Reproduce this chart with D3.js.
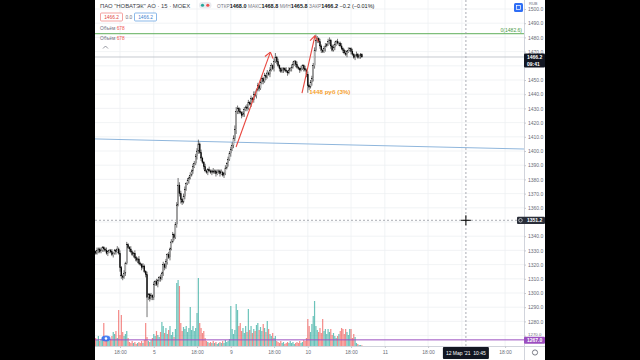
<!DOCTYPE html>
<html>
<head>
<meta charset="utf-8">
<script src="https://cdn.jsdelivr.net/npm/d3@7"></script>
<style>
  body { margin: 0; background: #000; }
  svg { display: block; font-family: "Liberation Sans", Arial, sans-serif; }
</style>
</head>
<body>
<svg id="chart" width="640" height="360"></svg>
<script>
// 15 min candles, PAO NOVATEK, 4 Mar 13:30 .. 10 Mar 20:00 (bar index = position)
const closes = [
  1328, 1330, 1331, 1329, 1330, 1332, 1331, 1330, 1328, 1329,
  1330, 1329, 1327, 1328, 1330, 1329, 1331, 1328, 1318, 1312,
  1311, 1314, 1321, 1334, 1332, 1331, 1329, 1327, 1328, 1325,
  1323, 1324, 1321, 1320, 1318, 1319, 1315, 1313, 1297, 1299,
  1296, 1298, 1297, 1306, 1308, 1306, 1309, 1311, 1310, 1314,
  1320, 1318, 1322, 1327, 1325, 1331, 1336, 1341, 1339, 1348,
  1362, 1376, 1370, 1366, 1364, 1368, 1373, 1377, 1379, 1381,
  1383, 1386, 1389, 1391, 1396, 1400, 1405, 1399, 1395, 1392,
  1389, 1386, 1385, 1387, 1386, 1385, 1386, 1385, 1386, 1384,
  1385, 1386, 1384, 1385, 1383, 1384, 1388, 1391, 1394, 1398,
  1401, 1404, 1409, 1415, 1428, 1430, 1428, 1427, 1425, 1426,
  1429, 1431, 1430, 1434, 1433, 1437, 1436, 1440, 1439, 1443,
  1446, 1444, 1448, 1451, 1449, 1453, 1452, 1455, 1454, 1457,
  1460, 1458, 1463, 1466, 1463, 1460, 1458, 1456, 1457, 1458,
  1457, 1456, 1455, 1457, 1458, 1459, 1461, 1463, 1461, 1459,
  1458, 1457, 1458, 1460, 1458, 1457, 1454, 1446, 1445, 1448,
  1451, 1460, 1471, 1478, 1479, 1477, 1474, 1471, 1470, 1472,
  1474, 1475, 1477, 1478, 1474, 1471, 1473, 1475, 1477, 1476,
  1476, 1474, 1472, 1471, 1469, 1468, 1470, 1471, 1472, 1470,
  1468, 1466, 1467, 1468, 1466, 1467, 1468, 1466.2
];
const firstOpen = 1329;

// wick length above / below the body, rub
const wickUp = [
  1,2,1,1,2,1,1,1,2,1, 1,1,2,1,1,1,2,1,2,1,
  1,2,1,2,1,1,2,1,1,2, 1,1,2,1,1,2,1,1,2,1,
  1,2,1,2,1,2,1,1,2,1, 2,1,2,1,2,1,2,2,1,2,
  2,5,2,2,1,2,2,1,2,1, 2,1,2,2,2,2,3,1,2,1,
  1,2,1,1,2,1,1,2,1,1, 2,1,1,2,1,1,2,1,2,2,
  2,2,2,3,3,2,1,2,1,2, 2,1,2,2,1,2,1,2,2,1,
  2,1,2,2,1,2,1,2,1,2, 2,1,2,3,1,2,1,1,2,1,
  1,2,1,2,1,2,2,1,1,2, 1,1,2,1,1,2,1,2,1,2,
  2,2,2,4,2,1,2,1,1,2, 2,1,2,2,1,1,2,2,1,2,
  1,1,2,1,1,2,1,2,1,1, 2,1,1,2,1,1,1,0.8
];
const wickDown = [
  1,1,2,1,1,1,2,1,1,2, 1,1,1,2,1,2,1,1,3,2,
  2,1,2,1,1,2,1,1,2,1, 1,2,1,1,2,1,1,2,14,2,
  2,1,2,2,1,1,2,1,2,1, 2,2,1,2,1,2,1,1,2,1,
  2,1,2,3,2,1,2,1,1,2, 1,1,2,1,1,2,2,1,2,1,
  2,1,1,2,1,1,2,1,1,2, 1,1,2,1,1,2,1,1,2,1,
  2,1,2,2,3,2,2,1,2,1, 2,1,2,1,1,2,1,2,1,2,
  1,2,1,1,2,1,2,1,1,2, 1,1,2,1,2,1,2,1,1,2,
  1,1,2,1,1,2,1,1,2,1, 1,2,1,1,2,1,2,5,2,1,
  2,2,2,1,2,1,2,2,1,1, 2,1,1,2,2,1,1,2,1,1,
  2,1,1,2,1,1,2,1,1,2, 1,1,2,1,1,1,2,0.4
];

// volume, thousand shares
const volumes = [
  8, 6, 10, 5, 7, 9, 23, 8, 6, 9,
  5, 7, 10, 14, 12, 15, 8, 36, 11, 31,
  14, 10, 12, 15, 8, 4, 3, 5, 3, 4,
  2, 3, 4, 3, 5, 3, 6, 23, 9, 5,
  4, 6, 8, 12, 10, 15, 11, 9, 14, 24,
  20, 13, 18, 12, 16, 20, 11, 14, 9, 17,
  63, 66, 60, 23, 15, 19, 17, 20, 14, 18,
  39, 16, 20, 15, 18, 33, 68, 23, 18, 13,
  15, 8, 5, 4, 3, 4, 3, 5, 3, 4,
  2, 3, 4, 3, 5, 3, 6, 4, 5, 7,
  40, 17, 12, 16, 42, 36, 20, 23, 15, 18,
  13, 20, 14, 37, 16, 20, 13, 17, 15, 21,
  23, 16, 19, 15, 22, 18, 14, 25, 17, 12,
  10, 13, 8, 10, 5, 4, 3, 5, 3, 4,
  2, 3, 4, 3, 5, 3, 4, 2, 3, 4,
  3, 5, 3, 4, 6, 5, 8, 27, 20, 14,
  22, 30, 45, 20, 16, 14, 18, 13, 27, 15,
  17, 12, 17, 14, 17, 11, 13, 10, 8, 10,
  12, 15, 18, 17, 12, 17, 14, 11, 17, 17,
  8, 12, 9, 3, 2, 1, 1, 0.678
];

const priceTicks = [1270, 1280, 1290, 1300, 1310, 1320, 1330, 1340, 1350, 1360, 1370, 1380,
  1390, 1400, 1410, 1420, 1430, 1440, 1450, 1460, 1470, 1480, 1490, 1500];
const timeTickIdx = [18, 43, 75, 100, 132, 157, 189, 214, 246, 271, 303];
const timeTickLabels = ['18:00', '5', '18:00', '9', '18:00', '10', '18:00', '11', '18:00', '12', '18:00'];

// drawings on the chart (bar index, price)
const levelGreen = 1482.6;
const levelPurple = 1267.0;
const blueLine = [[-0.5, 1408.5], [317, 1401.4]];
const arrows = [[[103.9, 1402.8], [129.3, 1469.6]], [[152.7, 1440.8], [162.3, 1481.2]]];
const note = {i: 158, price: 1441.5, text: '1448 руб (3%)'};
const cross = {i: 274, price: 1351.2, label: "12 Мар '21  10:45"};
const lastPrice = 1466.2;

const paneLeft = 95, paneRight = 524, axisRight = 545, paneBottom = 346;

const svg = d3.select('#chart');
svg.append('rect').attr('x', paneLeft).attr('width', axisRight - paneLeft).attr('height', 360).attr('fill', '#fff');

const x = d3.scaleLinear().domain([-0.5, 317]).range([paneLeft, paneRight]);
const y = d3.scaleLinear().domain([1300, 1500]).range([293, 9]);
const yVol = d3.scaleLinear().domain([0, 66]).range([paneBottom, 280]);

// grid
svg.append('g').selectAll('line').data(priceTicks).join('line')
  .attr('x1', paneLeft).attr('x2', paneRight)
  .attr('y1', d => y(d)).attr('y2', d => y(d))
  .attr('stroke', '#eef0f3').attr('stroke-width', 0.8);
svg.append('g').selectAll('line').data(timeTickIdx).join('line')
  .attr('x1', d => x(d)).attr('x2', d => x(d))
  .attr('y1', 0).attr('y2', paneBottom)
  .attr('stroke', '#eef0f3').attr('stroke-width', 0.8);

const bars = closes.map((c, i) => {
  const o = i === 0 ? firstOpen : closes[i - 1];
  return {i, o, c, h: Math.max(o, c) + wickUp[i], l: Math.min(o, c) - wickDown[i], v: volumes[i]};
});

// volume
svg.append('g').selectAll('rect').data(bars).join('rect')
  .attr('x', d => x(d.i) - 0.6)
  .attr('width', 1.2)
  .attr('y', d => yVol(d.v))
  .attr('height', d => paneBottom - yVol(d.v))
  .attr('fill', d => d.c >= d.o ? '#26a69a' : '#ef5350')
  .attr('opacity', 0.68);

// purple level
svg.append('line')
  .attr('x1', paneLeft).attr('x2', paneRight)
  .attr('y1', y(levelPurple)).attr('y2', y(levelPurple))
  .attr('stroke', '#9c4fc0').attr('stroke-width', 1);

// blue trend line
svg.append('line')
  .attr('x1', x(blueLine[0][0])).attr('y1', y(blueLine[0][1]))
  .attr('x2', x(blueLine[1][0])).attr('y2', y(blueLine[1][1]))
  .attr('stroke', '#8fb6dc').attr('stroke-width', 1);

// green level
svg.append('line')
  .attr('x1', paneLeft).attr('x2', paneRight)
  .attr('y1', y(levelGreen)).attr('y2', y(levelGreen))
  .attr('stroke', '#5fae5a').attr('stroke-width', 1);
svg.append('text')
  .attr('x', paneRight - 2).attr('y', y(levelGreen) - 1.5)
  .attr('text-anchor', 'end').attr('font-size', 5).attr('fill', '#4a9a45')
  .text('0(' + levelGreen.toFixed(1) + ')');

// last price line
svg.append('line')
  .attr('x1', paneLeft).attr('x2', paneRight)
  .attr('y1', y(lastPrice)).attr('y2', y(lastPrice))
  .attr('stroke', '#b8bcc4').attr('stroke-width', 0.8);

// crosshair
svg.append('line')
  .attr('x1', x(cross.i)).attr('x2', x(cross.i)).attr('y1', 0).attr('y2', paneBottom)
  .attr('stroke', '#9598a1').attr('stroke-width', 0.8).attr('stroke-dasharray', '2,2');
svg.append('line')
  .attr('x1', paneLeft).attr('x2', paneRight).attr('y1', y(cross.price)).attr('y2', y(cross.price))
  .attr('stroke', '#9598a1').attr('stroke-width', 0.8).attr('stroke-dasharray', '2,2');

// candles
const candles = svg.append('g');
candles.selectAll('line').data(bars).join('line')
  .attr('x1', d => x(d.i)).attr('x2', d => x(d.i))
  .attr('y1', d => y(d.h)).attr('y2', d => y(d.l))
  .attr('stroke', '#000').attr('stroke-width', 0.55);
candles.selectAll('rect').data(bars).join('rect')
  .attr('x', d => x(d.i) - 0.5)
  .attr('width', 1.0)
  .attr('y', d => y(Math.max(d.o, d.c)))
  .attr('height', d => Math.max(0.5, Math.abs(y(d.o) - y(d.c))))
  .attr('fill', d => d.c >= d.o ? '#fff' : '#000')
  .attr('stroke', '#000').attr('stroke-width', 0.3);

// red arrows
const arrowG = svg.append('g').attr('stroke', '#e8473f').attr('stroke-width', 1.1).attr('fill', 'none');
arrows.forEach(a => {
  const x1 = x(a[0][0]), y1 = y(a[0][1]), x2 = x(a[1][0]), y2 = y(a[1][1]);
  arrowG.append('line').attr('x1', x1).attr('y1', y1).attr('x2', x2).attr('y2', y2);
  const ang = Math.atan2(y1 - y2, x1 - x2);
  [0.55, -0.75].forEach(da => {
    arrowG.append('line').attr('x1', x2).attr('y1', y2)
      .attr('x2', x2 + 7 * Math.cos(ang + da)).attr('y2', y2 + 7 * Math.sin(ang + da));
  });
});
svg.append('text')
  .attr('x', x(note.i)).attr('y', y(note.price) + 2)
  .attr('font-size', 6.2).attr('font-weight', 'bold').attr('fill', '#f5a02c')
  .text(note.text);

// price axis
const yAxis = svg.append('g')
  .attr('transform', `translate(${paneRight},0)`)
  .call(d3.axisRight(y).tickValues(priceTicks).tickSize(2).tickSizeOuter(0).tickFormat(d => d.toFixed(1)));
yAxis.select('.domain').attr('d', 'M0.5,0V360').attr('stroke', '#d1d4dc');
yAxis.selectAll('.tick line').attr('stroke', '#c8cad0');
yAxis.selectAll('.tick text').attr('x', 4).attr('font-size', 5).attr('fill', '#6a6d78');
// labels hidden behind the price boxes
yAxis.selectAll('.tick').filter(d => d === 1460 || d === 1350).select('text').remove();
// 1270 sits just above the purple level box
yAxis.selectAll('.tick').filter(d => d === 1270).select('text').attr('dy', '-0.05em').attr('font-size', 4.4);

// time axis
const xAxis = svg.append('g')
  .attr('transform', `translate(0,${paneBottom})`)
  .call(d3.axisBottom(x).tickValues(timeTickIdx).tickSize(2).tickSizeOuter(0).tickFormat((d, i) => timeTickLabels[i]));
xAxis.select('.domain').attr('d', `M${paneLeft},0.5H${axisRight}`).attr('stroke', '#d1d4dc');
xAxis.selectAll('.tick line').attr('stroke', '#c8cad0');
xAxis.selectAll('.tick text').attr('y', 4).attr('font-size', 5).attr('fill', '#6a6d78');
xAxis.selectAll('.tick').filter(d => Math.abs(d - cross.i) < 10).select('text').remove();

svg.append('text').attr('x', 529).attr('y', 5).attr('font-size', 4).attr('fill', '#6a6d78').text('RUB');

// axis labels
function axisBox(py, h, fill, lines, x0) {
  const g = svg.append('g');
  g.append('rect').attr('x', x0).attr('y', py - 3.6).attr('width', axisRight - x0).attr('height', h)
    .attr('fill', fill).attr('rx', 1);
  lines.forEach((t, k) => {
    g.append('text').attr('x', paneRight + 3).attr('y', py + 1.8 + k * 7)
      .attr('font-size', 5).attr('font-weight', 'bold').attr('fill', '#fff').text(t);
  });
  return g;
}
axisBox(y(lastPrice), 14, '#131722', [lastPrice.toFixed(1), '09:41'], paneRight);
const crossBox = axisBox(y(cross.price), 7.2, '#2a2e39', [cross.price.toFixed(1)], paneRight - 7);
crossBox.append('circle').attr('cx', paneRight - 3.5).attr('cy', y(cross.price)).attr('r', 1.8)
  .attr('fill', 'none').attr('stroke', '#fff').attr('stroke-width', 0.6);
axisBox(y(levelPurple) + 0.6, 7, '#9c4fc0', [levelPurple.toFixed(1)], paneRight);

// crosshair time label
const tx = x(cross.i);
svg.append('rect').attr('x', tx - 23).attr('y', paneBottom + 1).attr('width', 46).attr('height', 12)
  .attr('fill', '#131722').attr('rx', 1);
svg.append('text').attr('x', tx).attr('y', paneBottom + 9).attr('text-anchor', 'middle')
  .attr('font-size', 5).attr('fill', '#fff').attr('xml:space', 'preserve').text(cross.label);

// cursor
svg.append('path').attr('d', `M${tx - 5},${y(cross.price)}H${tx + 5}M${tx},${y(cross.price) - 5}V${y(cross.price) + 5}`)
  .attr('stroke', '#000').attr('stroke-width', 1);

// gear icon
svg.append('circle').attr('cx', 535).attr('cy', 352.5).attr('r', 2.6)
  .attr('fill', 'none').attr('stroke', '#6a6d78').attr('stroke-width', 0.9);

// blue icon top right
svg.append('rect').attr('x', 514).attr('y', 3).attr('width', 9).attr('height', 9).attr('rx', 1.5).attr('fill', '#2f6ef5');
svg.append('rect').attr('x', 516.5).attr('y', 5.5).attr('width', 4).attr('height', 4).attr('fill', 'none')
  .attr('stroke', '#fff').attr('stroke-width', 0.7);

// eye icon on volume
svg.append('ellipse').attr('cx', 106).attr('cy', 338.5).attr('rx', 4.5).attr('ry', 3).attr('fill', '#2f6ef5').attr('opacity', 0.85);
svg.append('circle').attr('cx', 106).attr('cy', 338.5).attr('r', 1.3).attr('fill', '#fff');

// legend
const legend = svg.append('g').attr('font-size', 5.9);
legend.append('text').attr('x', 100).attr('y', 7.8).attr('fill', '#3b3e48')
  .attr('xml:space', 'preserve').text('ПАО "НОВАТЭК" АО · 15 · MOEX');
legend.append('rect').attr('x', 199).attr('y', 2).attr('width', 12.5).attr('height', 6.5).attr('rx', 3.2).attr('fill', '#e9ebf0');
legend.append('circle').attr('cx', 202.5).attr('cy', 5.25).attr('r', 1.6).attr('fill', '#26a69a');
legend.append('circle').attr('cx', 207.8).attr('cy', 5.25).attr('r', 1.6).attr('fill', '#ef5350');
const ohlc = legend.append('text').attr('x', 217).attr('y', 7.8).attr('font-size', 5.5);
[['ОТКР', '1468.0'], ['МАКС', '1468.8'], ['МИН', '1465.8'], ['ЗАКР', '1466.2']].forEach(p => {
  ohlc.append('tspan').attr('fill', '#787b86').attr('font-size', 4.8).text(p[0]);
  ohlc.append('tspan').attr('fill', '#131722').attr('font-weight', 'bold').text(p[1] + ' ');
});
ohlc.append('tspan').attr('fill', '#131722').text('−0.2 (−0.01%)');

legend.append('rect').attr('x', 100.5).attr('y', 13).attr('width', 22).attr('height', 8).attr('rx', 1)
  .attr('fill', '#fff').attr('stroke', '#ef7d7a').attr('stroke-width', 0.7);
legend.append('text').attr('x', 111.5).attr('y', 19).attr('text-anchor', 'middle').attr('font-size', 4.8).attr('fill', '#e04440').text('1466.2');
legend.append('text').attr('x', 125.5).attr('y', 19).attr('font-size', 4.8).attr('fill', '#6a6d78').text('0.0');
legend.append('rect').attr('x', 134.5).attr('y', 13).attr('width', 22).attr('height', 8).attr('rx', 1)
  .attr('fill', '#fff').attr('stroke', '#5a9be0').attr('stroke-width', 0.7);
legend.append('text').attr('x', 145.5).attr('y', 19).attr('text-anchor', 'middle').attr('font-size', 4.8).attr('fill', '#3b7fd0').text('1466.2');
[30, 40].forEach(ly => {
  const t = legend.append('text').attr('x', 100).attr('y', ly).attr('font-size', 4.8);
  t.append('tspan').attr('fill', '#6a6d78').text('Объём ');
  t.append('tspan').attr('fill', '#ef5350').text('678');
});
legend.append('path').attr('d', 'M103,48.5L105.5,46L108,48.5').attr('fill', 'none').attr('stroke', '#6a6d78').attr('stroke-width', 0.7);
</script>
</body>
</html>
